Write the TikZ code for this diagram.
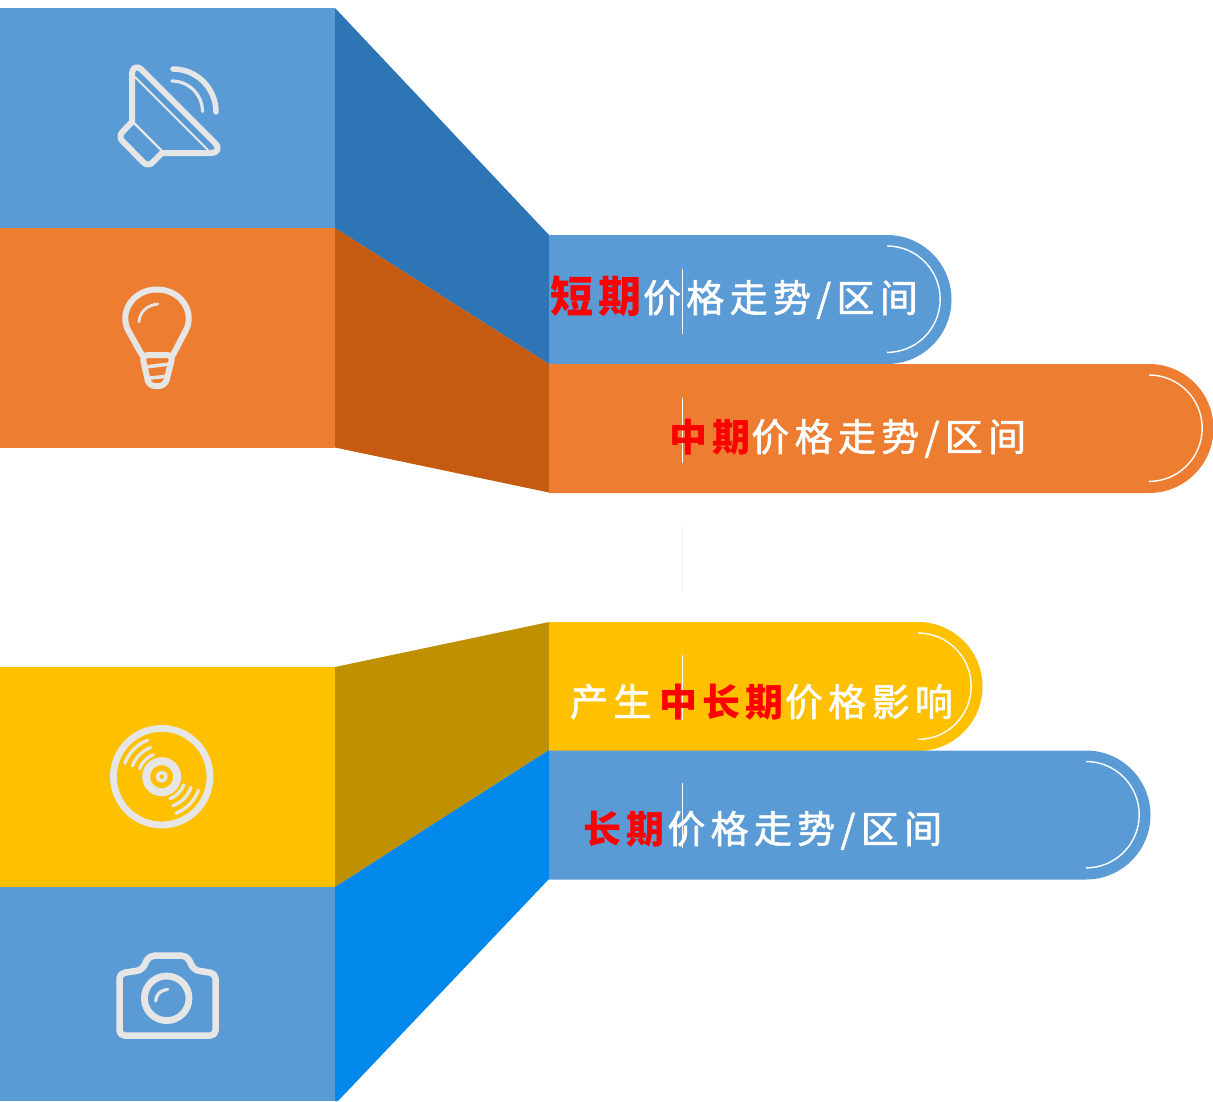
\documentclass[tikz,border=0pt]{standalone}
\usepackage{fontspec}
\newfontfamily\cjk[LetterSpace=14]{Noto Sans CJK SC}
\definecolor{cblue}{HTML}{5B9BD5}
\definecolor{corange}{HTML}{ED7D31}
\definecolor{cyellow}{HTML}{FFC000}
\definecolor{dblue}{HTML}{2E75B6}
\definecolor{dorange}{HTML}{C55A11}
\definecolor{dyellow}{HTML}{BF9000}
\definecolor{bblue}{HTML}{0288EA}
\definecolor{icon}{HTML}{E7E6E6}
\newcommand{\hot}[1]{{\bfseries\color{red}#1}}
\newcommand{\plain}[1]{{\addfontfeature{FakeBold=1.5}#1}}
\tikzset{
  x=1pt,y=-1pt,
  ico/.style={draw=icon,line width=#1,line cap=round,line join=round},
  ico/.default=5.5,
  label/.style={font=\cjk\fontsize{38}{38}\selectfont,text=white,anchor=base west,inner sep=0pt,outer sep=0pt},
  tick/.style={draw=white,line width=1},
  ring/.style={draw=white,line width=1.4}
}
\newcommand{\pill}[4]{% colour, y-top, x-arc, y-bottom
  \fill[#1] (549,#2) -- (#3,#2) arc[start angle=-90,end angle=90,radius=64.5] -- (549,#4) -- cycle;
  \draw[ring] (#3,#2+11) arc[start angle=-90,end angle=90,radius=53.2];
}
\begin{document}
\begin{tikzpicture}
\useasboundingbox (0,0) rectangle (1213,1101);
\fill[white] (0,0) rectangle (1213,1101);
% left bands
\fill[cblue] (0,8) rectangle (335,228);
\fill[corange] (0,228) rectangle (335,447.5);
\fill[cyellow] (0,667) rectangle (335,887);
\fill[cblue] (0,887) rectangle (335,1101);
% slanted faces
\fill[dblue] (335,8) -- (549,235) -- (549,364) -- (335,228) -- cycle;
\fill[dorange] (335,228) -- (549,364) -- (549,492.5) -- (335,447.5) -- cycle;
\fill[dyellow] (335,667) -- (549,622) -- (549,750) -- (335,887) -- cycle;
\fill[bblue] (335,887) -- (549,750) -- (549,879) -- (338,1101) -- (335,1101) -- cycle;
% pills
\pill{cblue}{235}{887}{364}
\pill{cyellow}{622}{918}{751}
\pill{corange}{364}{1149}{493}
\pill{cblue}{750.5}{1086}{879.5}
% thin ticks
\draw[tick] (682.5,269) -- (682.5,334);
\draw[tick] (682.5,398) -- (682.5,463);
\draw[draw=black!6,line width=1.4] (682.5,527) -- (682.5,592);
\draw[tick] (682.5,655) -- (682.5,720);
\draw[tick] (682.5,783) -- (682.5,848);
% labels
\node[label] (short) at (550,312) {{\fontsize{43}{43}\selectfont\hot{短期}}\hspace{1pt}\plain{价格走势/区间}};
\node[label] (mid) at (669,451) {\hot{中期}\hspace{1pt}\plain{价格走势/区间}};
\node[label] (midlong) at (570,716) {\plain{产生}\hspace{8pt}\hot{中长期}\hspace{1pt}\plain{价格影响}};
\node[label] (long) at (583,843) {\hot{长期}\hspace{3pt}\plain{价格走势/区间}};
% speaker icon
\draw[ico=6,rounded corners=15] (132,122) -- (132,60) -- (225,153) -- (162,153);
\draw[ico=6,rounded corners=6] (132,122) -- (118,136.5) -- (148,167) -- (162,153);
\draw[ico=2.2] (133,122) -- (162,151);
\draw[ico=2] (135,77) -- (208,150);
\draw[ico=5.5] (173,69) arc[start angle=-90,end angle=0,radius=43];
\draw[ico=3.2] (172,81) arc[start angle=-90,end angle=0,radius=30.5];
% bulb icon
\draw[ico=6] (142,355) -- (128,330) .. controls (119,312) and (133,289.5) .. (157,289.5)
  .. controls (181,289.5) and (195,312) .. (186,330) -- (173,355);
\draw[ico=6,rounded corners=6] (142,355) -- (149,386) -- (165,386) -- (173,355) -- cycle;
\draw[ico=3.5] (145,367) -- (170,364);
\draw[ico=3.5] (150,378) -- (165,376.5);
\draw[ico=2.8] (139,322) .. controls (139.5,312) and (147,305) .. (158,304);
% disc icon
\coordinate (dc) at (161.7,776.7);
\draw[ico=6.8] (dc) circle[radius=48.3];
\draw[ico=8] (dc) circle[radius=15.5];
\draw[ico=3.5] (dc) circle[radius=4.3];
\foreach \r in {23.5,31.2,39.2}{
  \draw[ico=3.3] (dc) ++(-111:\r) arc[start angle=-111,end angle=-160,radius=\r];
  \draw[ico=3.3] (dc) ++(-291:\r) arc[start angle=-291,end angle=-340,radius=\r];
}
% camera icon
\draw[ico=6.5,rounded corners=5] (167,1035.5) -- (119.5,1035.5) -- (119.5,973.5) -- (142,970) -- (149,955.7)
  -- (187,955.7) -- (194,970) -- (215.5,973.5) -- (215.5,1035.5) -- cycle;
\coordinate (lc) at (166.7,998.3);
\draw[ico=6.8] (lc) circle[radius=22.3];
\draw[ico=3.2] (155.7,1001) .. controls (156,994) and (161,990) .. (167.7,989.3);
\end{tikzpicture}
\end{document}
